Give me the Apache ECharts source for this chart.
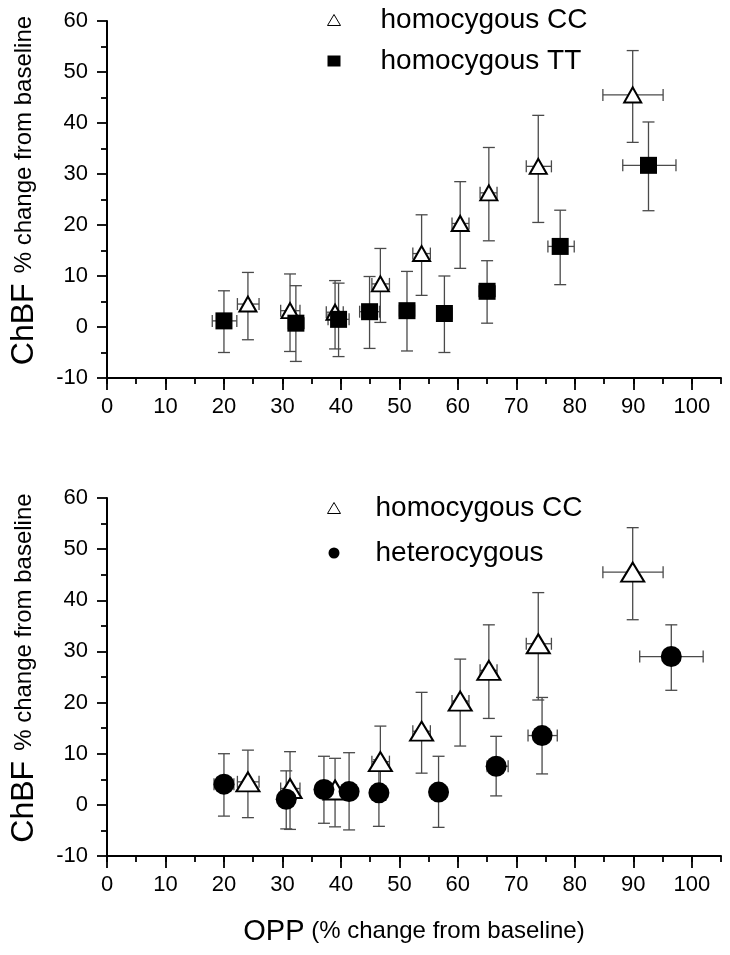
<!DOCTYPE html>
<html>
<head>
<meta charset="utf-8">
<script src="https://cdn.jsdelivr.net/npm/echarts@6/dist/echarts.min.js"></script>
<style>
html,body{margin:0;padding:0;background:#fff;}
#chart{width:730px;height:955px;}
</style>
</head>
<body>
<div id="chart"></div>
<script>
// ---- data ----
// homocygous CC (same group in both panels)
const ccX   = [24.1, 31.3, 39.0, 46.75, 53.8, 60.4, 65.3, 73.75, 89.9];
const ccY   = [4.5, 3.2, 2.9, 8.45, 14.4, 20.3, 26.3, 31.5, 45.5];
const ccYLo = [-2.5, -4.8, -4.3, 0.9, 6.2, 11.5, 16.9, 20.5, 36.2];
const ccYHi = [10.7, 10.4, 9.1, 15.4, 22.0, 28.5, 35.2, 41.5, 54.2];
const ccXLo = [22.3, 29.7, 37.5, 45.3, 52.3, 59.0, 63.8, 71.7, 84.8];
const ccXHi = [26.0, 33.0, 40.4, 48.3, 55.3, 61.9, 66.7, 76.0, 95.1];
// homocygous TT
const ttX   = [20.0, 32.3, 39.6, 44.9, 51.3, 57.7, 65.0, 77.5, 92.6];
const ttY   = [1.2, 0.75, 1.5, 3.0, 3.2, 2.65, 7.0, 15.8, 31.7];
const ttYLo = [-5.0, -6.75, -5.8, -4.2, -4.7, -5.0, 0.75, 8.3, 22.8];
const ttYHi = [7.1, 8.1, 8.6, 9.9, 10.9, 10.0, 13.0, 22.9, 40.2];
const ttXLo = [18.0, 31.0, 37.8, 43.2, 50.0, 56.4, 63.6, 75.4, 88.2];
const ttXHi = [22.2, 33.7, 41.4, 46.6, 52.6, 59.0, 66.4, 79.9, 97.3];
// heterocygous
const heX   = [20.0, 30.65, 37.1, 41.4, 46.5, 56.7, 66.55, 74.4, 96.5];
const heY   = [4.05, 1.1, 3.0, 2.6, 2.35, 2.5, 7.55, 13.55, 29.0];
const heYLo = [-2.2, -4.7, -3.6, -4.9, -4.2, -4.4, 1.75, 6.05, 22.4];
const heYHi = [10.0, 6.65, 9.5, 10.2, 8.8, 9.5, 13.4, 21.0, 35.2];
const heXLo = [18.3, 29.5, 36.0, 40.3, 45.3, 55.3, 65.0, 72.0, 91.1];
const heXHi = [21.7, 31.8, 38.2, 42.5, 47.7, 58.1, 68.6, 77.0, 101.95];
// axes
const xTickLabels = [0, 10, 20, 30, 40, 50, 60, 70, 80, 90, 100];
const xMin = 0, xMax = 105, xMinorStep = 5;
const yMin = -10, yMax = 60, yStep = 10;
const nameCC = 'homocygous CC', nameTT = 'homocygous TT', nameHE = 'heterocygous';

// ---- build ----
const FONT = '"Liberation Sans", Arial, sans-serif';
function pts(x, y) { return x.map((v, i) => [v, y[i]]); }
function errData(x, y, xLo, xHi, yLo, yHi) {
  return x.map((v, i) => [v, y[i], xLo[i], xHi[i], yLo[i], yHi[i]]);
}
function renderErr(params, api) {
  const x = api.value(0), y = api.value(1);
  const top = api.coord([x, api.value(5)]);
  const bot = api.coord([x, api.value(4)]);
  const lf = api.coord([api.value(2), y]);
  const rt = api.coord([api.value(3), y]);
  const st = { stroke: '#4a4a4a', lineWidth: 1.3, fill: null };
  const h = 6;
  const L = (x1, y1, x2, y2) => ({ type: 'line', shape: { x1, y1, x2, y2 }, style: st });
  return { type: 'group', children: [
    L(top[0], top[1], bot[0], bot[1]),
    L(top[0] - h, top[1], top[0] + h, top[1]),
    L(bot[0] - h, bot[1], bot[0] + h, bot[1]),
    L(lf[0], lf[1], rt[0], rt[1]),
    L(lf[0], lf[1] - h, lf[0], lf[1] + h),
    L(rt[0], rt[1] - h, rt[0], rt[1] + h)
  ]};
}
function errSeries(idx, data) {
  return { type: 'custom', xAxisIndex: idx, yAxisIndex: idx, renderItem: renderErr,
    encode: { x: 0, y: 1 }, data: data, silent: true, clip: false };
}
const axisLineStyle = { color: '#000', width: 2 };
function mainX(idx, withName) {
  const ax = {
    type: 'value', gridIndex: idx, min: xMin, max: xMax, interval: 10,
    axisLine: { show: true, onZero: false, lineStyle: axisLineStyle },
    axisTick: { show: true, length: 12, lineStyle: { color: '#000', width: 1.8 }, customValues: xTickLabels },
    axisLabel: { show: true, margin: 18, fontSize: 22, color: '#000', fontFamily: FONT, customValues: xTickLabels },
    splitLine: { show: false }
  };
  if (withName) {
    ax.name = '{a|OPP}  {b|(% change from baseline)}';
    ax.nameLocation = 'middle';
    ax.nameGap = 61;
    ax.nameTextStyle = { rich: {
      a: { fontSize: 29, fontFamily: FONT, color: '#000' },
      b: { fontSize: 24, fontFamily: FONT, color: '#000' } } };
  }
  return ax;
}
function minorX(idx) {
  return { type: 'value', gridIndex: idx, min: xMin, max: xMax, interval: xMinorStep,
    axisLine: { show: false, onZero: false },
    axisTick: { show: true, length: 6, lineStyle: { color: '#000', width: 1.8 } },
    axisLabel: { show: false }, splitLine: { show: false } };
}
function mainY(idx) {
  return {
    type: 'value', gridIndex: idx, min: yMin, max: yMax, interval: yStep,
    axisLine: { show: true, onZero: false, lineStyle: axisLineStyle },
    axisTick: { show: true, length: 10, lineStyle: { color: '#000', width: 1.8 } },
    minorTick: { show: true, splitNumber: 2, length: 6, lineStyle: { color: '#000', width: 1.8 } },
    axisLabel: { margin: 19, fontSize: 22, color: '#000', fontFamily: FONT },
    splitLine: { show: false },
    name: '{a|ChBF}   {b|% change from baseline}',
    nameLocation: 'middle', nameRotate: 90, nameGap: 67,
    nameTextStyle: { padding: [0, 0, 0, 18], rich: {
      a: { fontSize: 32, fontFamily: FONT, color: '#000' },
      b: { fontSize: 24, fontFamily: FONT, color: '#000' } } }
  };
}
function hiddenY(idx) {
  return { type: 'value', gridIndex: idx, min: yMin, max: yMax, show: false };
}
const triStyle = { color: '#fff', borderColor: '#000', borderWidth: 2, opacity: 1 };
const legendText = (pad) => ({ fontSize: 28, fontFamily: FONT, color: '#000', lineHeight: 30,
  rich: { p: { width: pad } } });

const gTop = { left: 107, top: 21, width: 614, height: 357 };
const gBot = { left: 107, top: 498, width: 614, height: 358 };

const option = {
  backgroundColor: '#fff',
  animation: false,
  grid: [ Object.assign({}, gTop), Object.assign({}, gBot), Object.assign({}, gTop), Object.assign({}, gBot) ],
  xAxis: [ mainX(0, false), mainX(1, true), minorX(2), minorX(3) ],
  yAxis: [ mainY(0), mainY(1), hiddenY(2), hiddenY(3) ],
  legend: [
    { orient: 'vertical', left: 322, top: 0, itemWidth: 13, itemHeight: 11, itemGap: 11,
      formatter: n => '{p|}' + n, textStyle: legendText(35), selectedMode: false,
      data: [ { name: nameCC, icon: 'triangle', itemStyle: { color: '#fff', borderColor: '#000', borderWidth: 1 } },
              { name: nameTT, icon: 'rect', itemStyle: { color: '#000', borderWidth: 0 } } ] },
    { orient: 'vertical', left: 322, top: 488, itemWidth: 13, itemHeight: 11, itemGap: 15,
      formatter: n => '{p|}' + n, textStyle: legendText(30), selectedMode: false,
      data: [ { name: nameCC, icon: 'triangle', itemStyle: { color: '#fff', borderColor: '#000', borderWidth: 1 } },
              { name: nameHE, icon: 'circle', itemStyle: { color: '#000', borderWidth: 0 } } ] }
  ],
  series: [
    errSeries(0, errData(ccX, ccY, ccXLo, ccXHi, ccYLo, ccYHi)),
    { type: 'scatter', name: nameCC, xAxisIndex: 0, yAxisIndex: 0, data: pts(ccX, ccY),
      symbol: 'triangle', symbolSize: [17, 15], itemStyle: triStyle },
    errSeries(0, errData(ttX, ttY, ttXLo, ttXHi, ttYLo, ttYHi)),
    { type: 'scatter', name: nameTT, xAxisIndex: 0, yAxisIndex: 0, data: pts(ttX, ttY),
      symbol: 'rect', symbolSize: 17, itemStyle: { color: '#000', opacity: 1 } },

    errSeries(1, errData(ccX, ccY, ccXLo, ccXHi, ccYLo, ccYHi)),
    { type: 'scatter', name: nameCC, xAxisIndex: 1, yAxisIndex: 1, data: pts(ccX, ccY),
      symbol: 'triangle', symbolSize: [23, 19], itemStyle: triStyle },
    errSeries(1, errData(heX, heY, heXLo, heXHi, heYLo, heYHi)),
    { type: 'scatter', name: nameHE, xAxisIndex: 1, yAxisIndex: 1, data: pts(heX, heY),
      symbol: 'circle', symbolSize: 21, itemStyle: { color: '#000', opacity: 1 } }
  ]
};
const chart = echarts.init(document.getElementById('chart'), null, { renderer: 'canvas' });
chart.setOption(option);
</script>
</body>
</html>
